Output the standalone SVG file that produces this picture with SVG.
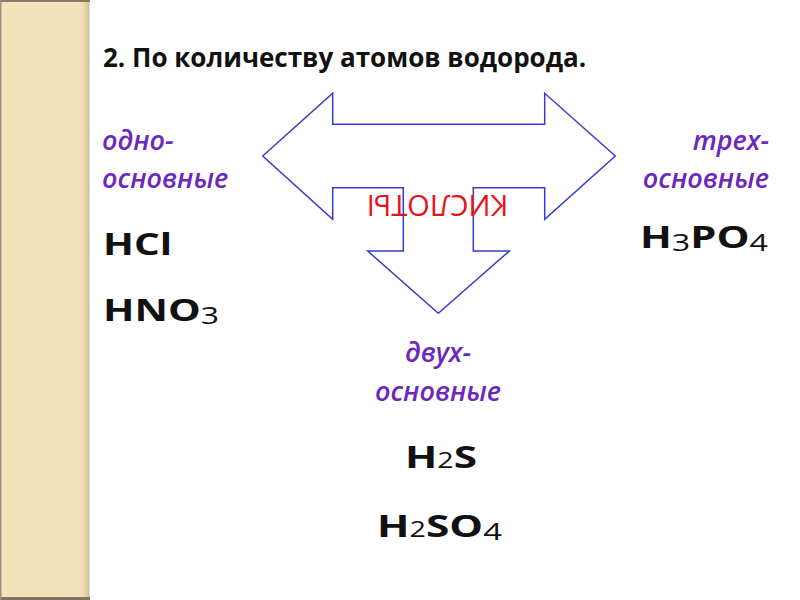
<svg xmlns="http://www.w3.org/2000/svg" width="800" height="600" viewBox="0 0 800 600">
<defs>
<pattern id="tex" width="4" height="4" patternUnits="userSpaceOnUse">
<rect width="4" height="4" fill="#F4E5BF"/>
<rect width="2" height="2" fill="#F1E0B6"/>
<rect x="2" y="2" width="2" height="2" fill="#F1E0B6"/>
</pattern>
<linearGradient id="edge" x1="0" x2="1" y1="0" y2="0">
<stop offset="0" stop-color="#E9D7A8" stop-opacity="0"/>
<stop offset="1" stop-color="#DCC898"/>
</linearGradient>
</defs>
<style>
.title{font-family:"Open Sans","DejaVu Sans",sans-serif;font-weight:bold;font-size:26px;fill:#111}
.cat{font-family:"Open Sans","DejaVu Sans",sans-serif;font-style:italic;font-weight:600;font-size:27px;fill:#6A28BE}
.f{font-family:"Open Sans","DejaVu Sans",sans-serif;font-weight:bold;font-size:31px;fill:#111}
.sub{font-weight:normal;font-size:24px}
.sub2{font-weight:normal;font-size:21px}
.arrow{fill:#fff;stroke:#3A3AD0;stroke-width:1.5;stroke-linejoin:miter}
.acid{font-family:"Open Sans","DejaVu Sans",sans-serif;font-size:29px;fill:#E8101A}
</style>
<rect width="800" height="600" fill="#fff"/>
<g id="strip">
<rect x="0" y="0" width="88" height="600" fill="url(#tex)"/>
<rect x="80" y="0" width="8" height="600" fill="url(#edge)"/>
<rect x="88" y="0" width="1.5" height="600" fill="#C5BDAD"/>
<rect x="0" y="0" width="90" height="2" fill="#857A68"/>
<rect x="0" y="597" width="90" height="3" fill="#7E7463"/>
<rect x="0" y="0" width="1.5" height="600" fill="#9A907C"/>
</g>
<g id="title"><text class="title" x="103" y="67">2. По количеству атомов водорода.</text></g>
<g id="connectors">
<path class="arrow" d="M262.7,156 L332.7,93.3 L332.7,124.3 L544.7,124.3 L544.7,93.3 L615.3,156 L544.7,219.3 L544.7,187.7 L473.3,187.7 L473.3,251 L509.3,251 L438.3,313.3 L367.7,251 L403.3,251 L403.3,187.7 L332.7,187.7 L332.7,219.3 Z"/>
<text class="acid" text-anchor="middle" transform="translate(437.5,195) rotate(180)">КИСЛОТЫ</text>
</g>
<g id="mono">
<text class="cat" x="102" y="150">одно-</text>
<text class="cat" x="102" y="188">основные</text>
<text class="f" x="103" y="255" textLength="69" lengthAdjust="spacingAndGlyphs">HCl</text>
<text class="f" x="103" y="321" textLength="116" lengthAdjust="spacingAndGlyphs">HNO<tspan class="sub" dy="3">3</tspan></text>
</g>
<g id="tri">
<text class="cat" x="769" y="150" text-anchor="end">трех-</text>
<text class="cat" x="769" y="188" text-anchor="end">основные</text>
<text class="f" x="640" y="248" textLength="128" lengthAdjust="spacingAndGlyphs">H<tspan class="sub" dy="3">3</tspan><tspan dy="-3">PO</tspan><tspan class="sub" dy="3">4</tspan></text>
</g>
<g id="di">
<text class="cat" x="438" y="362" text-anchor="middle">двух-</text>
<text class="cat" x="438" y="401" text-anchor="middle">основные</text>
<text class="f" x="405" y="468" textLength="72" lengthAdjust="spacingAndGlyphs">H<tspan class="sub2">2</tspan>S</text>
<text class="f" x="377" y="537" textLength="125" lengthAdjust="spacingAndGlyphs">H<tspan class="sub2">2</tspan>SO<tspan class="sub" dy="3">4</tspan></text>
</g>
</svg>
